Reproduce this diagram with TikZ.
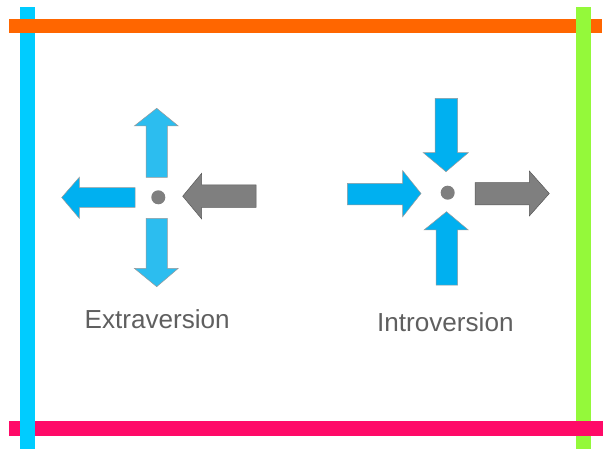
\documentclass[tikz,border=0pt]{standalone}
\usepackage{fontspec}
\setmainfont{Liberation Sans}
\definecolor{cyanbar}{HTML}{00CCFF}
\definecolor{orangebar}{HTML}{FF6600}
\definecolor{greenbar}{HTML}{94F93A}
\definecolor{magbar}{HTML}{FF0A68}
\definecolor{blueA}{HTML}{00B0F0}
\definecolor{blueB}{HTML}{2CBDEF}
\definecolor{grayA}{HTML}{7F7F7F}
\definecolor{txt}{HTML}{5F5F5F}
\tikzset{
  bluearrow/.style={fill=blueA, draw=grayA!80, line width=0.5pt},
  lightarrow/.style={fill=blueB, draw=grayA!80, line width=0.5pt},
  grayarrow/.style={fill=grayA, draw=black!65, line width=0.5pt},
  dotc/.style={fill=grayA, draw=none},
  lbl/.style={inner sep=0pt, anchor=base west, text=txt, font=\fontsize{26.1}{30}\selectfont},
}
\begin{document}
\begin{tikzpicture}[x=1pt,y=-1pt]
\useasboundingbox (0,0) rectangle (613,449);
% frame bars (circular overlap)
\fill[cyanbar] (20,7) rectangle (35,449);
\fill[orangebar] (9.3,19.3) rectangle (602,33.3);
\fill[greenbar] (576,7) rectangle (591,449);
\fill[magbar] (9,420.7) rectangle (603,435.7);
\fill[cyanbar] (20,418) rectangle (35,438);
% Extraversion
\draw[lightarrow] (146,177.3) -- (146,126) -- (134.3,126) -- (156.7,108.3) -- (178.3,126) -- (167.3,126) -- (167.3,177.3) -- cycle;
\draw[lightarrow] (146,218.3) -- (167.3,218.3) -- (167.3,268.3) -- (178.3,268.3) -- (156.7,286.7) -- (134.3,268.3) -- (146,268.3) -- cycle;
\draw[bluearrow] (135,187.7) -- (79.3,187.7) -- (79.3,177.3) -- (61.7,197.5) -- (79.3,218.3) -- (79.3,207.3) -- (135,207.3) -- cycle;
\draw[grayarrow] (256,185) -- (201.7,185) -- (201.7,173.3) -- (182.7,196.2) -- (201.7,219) -- (201.7,207.3) -- (256,207.3) -- cycle;
\fill[dotc] (158.3,197.3) circle (7);
\node[lbl] (ext) at (84.5,328) {Extraversion};
% Introversion
\draw[bluearrow] (435,98.3) -- (457.7,98.3) -- (457.7,152.7) -- (468.3,152.7) -- (446,171.7) -- (423.3,152.7) -- (435,152.7) -- cycle;
\draw[bluearrow] (436,285) -- (436,230) -- (424,230) -- (446.5,211.7) -- (468.3,230) -- (457.7,230) -- (457.7,285) -- cycle;
\draw[bluearrow] (347.3,183.3) -- (402.7,183.3) -- (402.7,170.7) -- (421,193.5) -- (402.7,216.7) -- (402.7,205) -- (347.3,205) -- cycle;
\draw[grayarrow] (475,182.7) -- (529.3,182.7) -- (529.3,171) -- (549.3,193.5) -- (529.3,216) -- (529.3,205) -- (475,205) -- cycle;
\fill[dotc] (447.7,192.7) circle (7);
\node[lbl] (int) at (377,331.7) {Introversion};
\end{tikzpicture}
\end{document}
